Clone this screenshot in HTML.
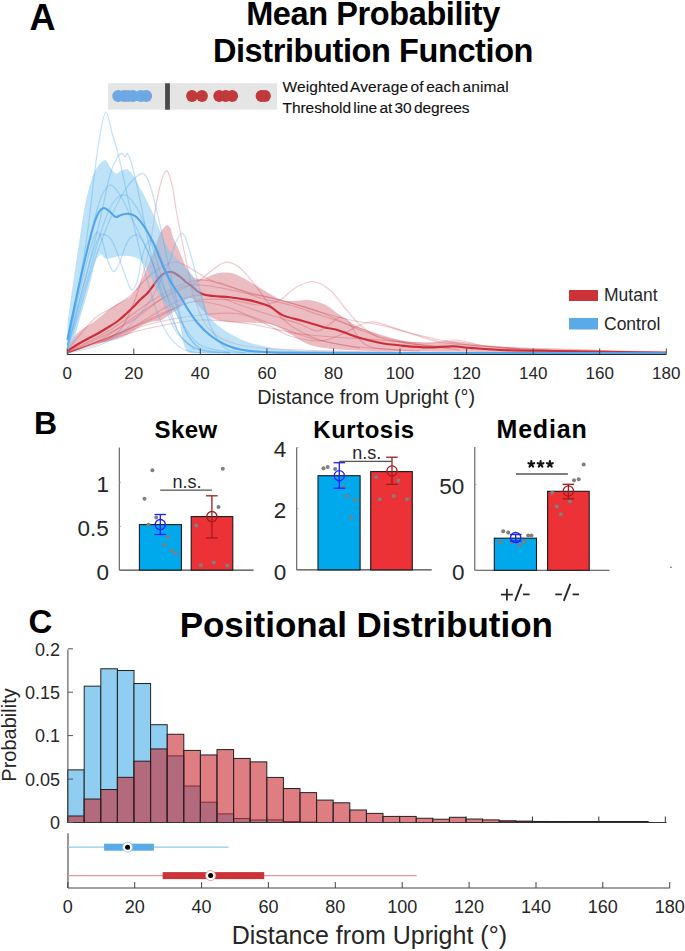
<!DOCTYPE html>
<html><head><meta charset="utf-8"><style>
html,body{margin:0;padding:0;background:#fff;}
svg{display:block;font-family:"Liberation Sans",sans-serif;}
.t{fill:#262626;}
</style></head><body>
<svg width="685" height="951" viewBox="0 0 685 951">
<rect width="685" height="951" fill="#fff"/>
<path d="M67.4,348.0 C69.1,345.5 73.3,337.2 77.5,333.0 C82.5,328.1 89.3,325.1 95.0,320.9 C101.0,316.4 106.5,311.2 112.6,306.9 C116.5,304.2 120.9,302.3 125.0,300.0 C126.7,299.0 128.6,298.3 130.0,297.0 C131.9,295.3 133.5,293.1 135.0,291.0 C137.3,287.8 139.5,284.5 141.3,281.0 C143.7,276.2 145.5,271.0 147.6,266.0 C149.7,260.9 151.9,255.8 153.9,250.6 C156.1,244.8 157.6,238.6 160.2,233.0 C161.3,230.6 163.2,228.3 165.0,226.5 C165.7,225.8 167.0,225.2 167.8,225.4 C168.8,225.7 170.0,226.9 170.5,228.0 C171.7,230.7 171.7,234.0 172.8,236.8 C174.6,241.5 177.1,246.0 179.1,250.6 C181.3,255.6 182.9,260.9 185.4,265.8 C187.2,269.3 189.2,273.0 191.8,275.8 C193.4,277.4 195.8,278.6 198.0,279.0 C200.2,279.4 202.8,279.0 205.0,278.4 C207.5,277.7 209.6,275.9 212.0,275.0 C215.0,274.0 218.2,272.9 221.3,272.7 C225.4,272.4 229.7,272.4 233.6,273.6 C238.5,275.1 243.0,278.2 247.6,280.6 C250.5,282.1 253.2,283.8 256.0,285.5 C259.0,287.3 262.1,289.2 265.1,291.0 C267.4,292.4 269.7,293.7 272.0,295.0 C275.0,296.7 277.8,298.9 281.0,300.0 C283.8,300.9 287.0,300.9 290.0,301.0 C293.3,301.1 296.7,300.7 300.0,300.5 C303.1,300.3 306.3,299.5 309.4,300.0 C314.6,300.8 319.9,302.2 324.7,304.4 C328.7,306.2 332.1,309.4 335.7,312.0 C339.4,314.6 342.9,317.4 346.6,319.8 C350.2,322.1 353.7,324.5 357.6,326.3 C364.7,329.6 372.0,332.6 379.5,335.0 C386.6,337.3 394.0,339.4 401.4,340.6 C410.2,342.0 419.1,342.7 428.0,342.8 C436.6,342.9 445.2,340.7 453.7,341.0 C463.1,341.4 472.4,344.0 481.8,344.9 C494.5,346.1 507.3,346.9 520.0,347.5 C533.3,348.1 546.7,348.1 560.0,348.5 C580.0,349.1 600.0,349.8 620.0,350.5 C635.3,351.0 658.3,351.8 666.0,352.0 L666.0,353.0 C621.7,352.8 488.7,352.2 400.0,351.5 C385.9,351.4 371.7,350.9 357.6,350.4 C350.3,350.2 343.0,350.0 335.7,349.3 C328.4,348.6 321.0,347.7 313.8,346.0 C310.0,345.1 306.3,343.5 302.8,341.7 C299.0,339.8 295.6,337.2 291.9,335.0 C288.0,332.6 284.1,330.1 280.0,328.0 C276.8,326.4 273.5,324.6 270.0,324.0 C262.7,322.8 255.1,323.0 247.6,322.6 C241.7,322.3 235.8,322.7 230.0,322.0 C223.9,321.2 217.4,320.5 212.0,318.0 C207.7,316.0 204.4,312.0 201.0,308.6 C198.4,306.0 196.5,302.7 194.0,300.0 C193.2,299.1 192.1,298.1 191.0,298.0 C189.6,297.8 187.6,298.1 186.5,299.0 C183.7,301.4 182.0,305.4 179.2,308.0 C177.1,310.0 174.3,311.3 171.9,313.0 C169.6,314.6 167.4,316.5 165.0,318.0 C163.4,319.0 161.8,319.9 160.0,320.4 C156.9,321.2 153.5,321.0 150.5,321.9 C147.0,323.0 143.5,324.5 140.3,326.3 C136.7,328.4 133.6,331.5 130.0,333.6 C126.3,335.7 122.4,337.4 118.4,338.7 C113.7,340.3 108.7,341.2 103.8,342.3 C99.0,343.3 94.0,343.8 89.2,345.0 C85.4,346.0 81.7,347.5 78.0,349.0 C74.4,350.5 69.2,353.2 67.4,354.0 Z" fill="#bc2637" fill-opacity="0.3"/>
<path d="M67.4,352.0 C72.8,350.5 89.7,347.3 100.0,343.0 C107.3,340.0 114.6,335.5 120.0,330.0 C124.6,325.2 127.2,318.3 130.0,312.0 C133.9,303.3 137.3,294.2 140.0,285.0 C143.9,271.8 147.3,258.5 150.0,245.0 C153.3,228.5 154.4,211.4 158.0,195.0 C159.8,186.6 163.5,172.7 166.4,170.6 C168.1,169.4 170.8,180.0 172.0,185.0 C174.3,194.5 175.0,204.4 176.8,214.0 C179.8,229.8 183.0,245.6 186.3,261.4 C189.0,274.3 190.7,287.6 195.0,300.0 C198.6,310.5 202.5,322.5 210.0,330.0 C217.5,337.5 229.3,342.6 240.0,345.0 C259.3,349.3 280.0,349.1 300.0,350.0 C333.3,351.5 383.3,351.7 400.0,352.0" fill="none" stroke="#cd2d37" stroke-opacity="0.25" stroke-width="1.2"/>
<path d="M67.4,353.0 C72.8,350.8 89.7,345.4 100.0,340.0 C110.6,334.4 120.0,326.7 130.0,320.0 C140.0,313.3 149.7,306.2 160.0,300.0 C166.4,296.2 173.3,293.3 180.0,290.0 C186.7,286.7 193.7,283.9 200.0,280.0 C205.4,276.6 209.7,271.5 215.0,268.0 C218.6,265.6 222.7,262.2 226.6,262.2 C231.0,262.2 236.3,265.0 240.0,268.0 C245.8,272.6 250.2,279.1 255.0,285.0 C260.2,291.5 264.5,298.7 270.0,305.0 C276.2,312.1 282.4,319.7 290.0,325.0 C299.0,331.3 309.5,336.5 320.0,340.0 C332.8,344.2 353.3,346.7 360.0,348.0" fill="none" stroke="#cd2d37" stroke-opacity="0.25" stroke-width="1.2"/>
<path d="M67.4,353.0 C76.2,349.7 102.7,340.2 120.0,333.0 C136.9,325.9 153.1,317.0 170.0,310.0 C179.7,306.0 189.7,301.7 200.0,300.0 C209.7,298.4 220.1,299.2 230.0,300.0 C240.1,300.8 250.1,305.0 260.0,305.0 C266.7,305.0 274.0,302.9 280.0,300.0 C285.6,297.3 289.5,291.1 295.0,288.0 C300.4,284.9 306.9,281.2 312.7,281.5 C318.6,281.8 325.1,286.0 330.0,290.0 C335.9,294.8 339.9,302.1 345.0,308.0 C349.9,313.7 354.3,320.1 360.0,325.0 C366.0,330.1 372.6,335.5 380.0,338.0 C392.6,342.2 406.6,343.0 420.0,345.0 C433.3,347.0 453.3,349.2 460.0,350.0" fill="none" stroke="#cd2d37" stroke-opacity="0.25" stroke-width="1.2"/>
<path d="M67.4,353.0 C77.8,348.8 109.7,337.5 130.0,328.0 C147.2,319.9 162.6,307.2 180.0,300.0 C189.2,296.2 200.2,294.2 210.0,295.0 C220.2,295.8 230.0,301.7 240.0,305.0 C250.0,308.3 260.0,311.8 270.0,315.0 C280.0,318.2 290.1,320.7 300.0,324.0 C306.1,326.0 312.2,331.0 318.0,331.0 C322.2,331.0 326.1,326.5 330.0,324.0 C332.5,322.4 334.4,319.8 337.0,318.5 C338.5,317.7 340.7,317.1 342.3,317.5 C344.3,318.0 346.6,319.4 348.0,321.0 C350.8,324.2 352.6,328.4 355.0,332.0 C357.3,335.4 358.9,339.5 362.0,342.0 C365.6,344.9 370.3,347.3 375.0,348.0 C389.7,350.3 412.5,350.5 420.0,351.0" fill="none" stroke="#cd2d37" stroke-opacity="0.25" stroke-width="1.2"/>
<path d="M67.4,352.0 C74.5,348.3 96.4,338.3 110.0,330.0 C123.9,321.6 136.3,310.8 150.0,302.0 C159.7,295.8 169.6,289.6 180.0,285.0 C186.2,282.3 193.3,280.3 200.0,280.0 C206.6,279.7 213.5,281.4 220.0,283.0 C226.8,284.7 233.4,287.5 240.0,290.0 C246.7,292.5 253.1,295.9 260.0,298.0 C269.8,300.9 280.1,302.2 290.0,305.0 C300.1,307.9 310.0,311.7 320.0,315.0 C330.0,318.3 340.0,321.7 350.0,325.0 C360.0,328.3 369.9,332.0 380.0,335.0 C389.9,338.0 399.8,341.3 410.0,343.0 C423.2,345.3 436.6,346.1 450.0,347.0 C466.6,348.1 483.3,348.4 500.0,349.0 C520.0,349.7 550.0,350.7 560.0,351.0" fill="none" stroke="#cd2d37" stroke-opacity="0.25" stroke-width="1.2"/>
<path d="M67.4,353.0 C76.2,349.7 102.6,340.0 120.0,333.0 C133.5,327.6 146.8,321.9 160.0,316.0 C170.1,311.5 179.5,303.9 190.0,302.0 C199.5,300.3 210.3,302.7 220.0,305.0 C230.3,307.4 240.0,312.3 250.0,316.0 C260.0,319.7 270.0,323.3 280.0,327.0 C290.0,330.7 299.8,335.2 310.0,338.0 C323.1,341.6 336.5,344.2 350.0,346.0 C366.5,348.2 391.7,349.3 400.0,350.0" fill="none" stroke="#cd2d37" stroke-opacity="0.25" stroke-width="1.2"/>
<path d="M67.4,353.0 C77.8,347.8 110.0,333.7 130.0,322.0 C145.8,312.7 159.0,298.4 175.0,290.0 C182.4,286.1 191.6,284.7 200.0,285.0 C213.3,285.4 226.7,289.5 240.0,292.0 C253.4,294.5 266.8,296.7 280.0,300.0 C293.5,303.4 306.6,308.2 320.0,312.0 C330.0,314.8 339.9,317.8 350.0,320.0 C359.9,322.1 370.1,322.9 380.0,325.0 C390.1,327.2 400.0,330.5 410.0,333.0 C420.0,335.5 429.9,338.0 440.0,340.0 C449.9,342.0 459.9,343.9 470.0,345.0 C483.3,346.5 496.7,347.2 510.0,348.0 C523.3,348.8 543.3,349.7 550.0,350.0" fill="none" stroke="#cd2d37" stroke-opacity="0.25" stroke-width="1.2"/>
<path d="M67.4,353.0 C74.5,350.5 95.8,343.0 110.0,338.0 C123.3,333.3 136.4,327.5 150.0,324.0 C166.4,319.8 183.2,316.9 200.0,315.0 C213.2,313.5 227.1,312.0 240.0,314.0 C250.4,315.6 260.1,321.7 270.0,326.0 C276.8,329.0 282.9,333.9 290.0,336.0 C299.6,338.9 310.1,341.2 320.0,341.0 C326.8,340.9 333.5,337.5 340.0,335.0 C350.2,331.1 359.7,322.9 370.0,322.0 C379.7,321.2 390.0,327.2 400.0,330.0 C413.4,333.8 426.4,339.3 440.0,342.0 C453.1,344.6 466.7,344.8 480.0,346.0 C493.3,347.2 506.6,348.3 520.0,349.0 C540.0,350.0 560.0,350.5 580.0,351.0 C600.0,351.5 630.0,351.8 640.0,352.0" fill="none" stroke="#cd2d37" stroke-opacity="0.25" stroke-width="1.2"/>
<path d="M67.4,353.0 C72.8,351.2 89.0,345.3 100.0,342.0 C116.6,337.0 133.1,331.7 150.0,328.0 C166.5,324.4 183.3,320.7 200.0,320.0 C216.6,319.3 233.5,321.7 250.0,324.0 C266.8,326.4 283.2,331.9 300.0,334.0 C326.5,337.3 353.3,338.2 380.0,340.0 C396.7,341.2 413.4,343.0 430.0,343.0 C438.4,343.0 446.7,339.7 455.0,340.0 C463.4,340.3 471.6,343.8 480.0,345.0 C493.3,346.8 513.3,348.3 520.0,349.0" fill="none" stroke="#cd2d37" stroke-opacity="0.25" stroke-width="1.2"/>
<path d="M67.4,350.0 C72.0,344.7 85.0,327.7 95.0,318.0 C99.2,314.0 105.1,312.1 110.0,309.0 C116.7,304.8 123.9,301.0 130.0,296.0 C135.6,291.4 139.7,285.0 145.0,280.0 C149.7,275.6 154.6,271.3 160.0,268.0 C164.6,265.3 170.0,262.0 175.0,262.0 C180.0,262.0 185.2,265.5 190.0,268.0 C196.9,271.5 202.9,276.9 210.0,280.0 C219.6,284.2 229.9,287.1 240.0,290.0 C253.2,293.8 266.8,296.4 280.0,300.0 C293.4,303.7 307.0,307.1 320.0,312.0 C333.7,317.1 346.3,324.9 360.0,330.0 C373.0,334.9 386.4,339.3 400.0,342.0 C416.4,345.3 441.7,347.0 450.0,348.0" fill="none" stroke="#cd2d37" stroke-opacity="0.25" stroke-width="1.2"/>
<path d="M67.4,351.0 C69.5,349.7 75.7,345.5 80.0,343.0 C84.9,340.2 90.0,337.8 95.0,335.0 C99.0,332.8 103.1,330.4 107.0,328.0 C110.7,325.8 114.4,323.6 117.8,321.0 C121.0,318.6 124.0,315.7 127.0,313.0 C129.8,310.4 132.6,307.7 135.3,305.0 C137.3,303.0 139.0,300.9 141.0,299.0 C143.1,296.9 145.6,295.2 147.6,293.0 C149.6,290.8 151.2,288.4 153.0,286.0 C154.7,283.7 156.3,281.2 158.1,279.0 C159.6,277.2 161.1,275.3 163.0,274.0 C164.6,272.9 166.7,272.4 168.6,272.0 C169.7,271.8 170.9,271.7 172.0,272.0 C173.4,272.4 174.7,273.2 176.0,274.0 C177.7,275.1 179.4,276.2 181.0,277.5 C182.7,278.9 184.3,280.6 186.0,282.0 C187.8,283.4 189.7,284.6 191.5,286.0 C193.4,287.6 195.0,289.6 197.0,291.0 C199.1,292.5 201.4,293.8 203.8,294.6 C206.6,295.5 209.6,295.7 212.6,296.0 C218.4,296.6 224.2,296.6 230.0,297.2 C235.9,297.9 241.8,298.8 247.6,299.9 C252.3,300.8 257.0,302.0 261.6,303.4 C264.5,304.3 267.4,305.1 270.0,306.6 C274.5,309.1 278.3,313.3 283.0,315.4 C289.2,318.1 296.2,319.0 302.8,320.9 C310.1,323.0 317.3,325.5 324.7,327.4 C328.3,328.3 332.1,328.6 335.7,329.5 C339.2,330.4 342.6,331.8 346.0,333.0 C349.9,334.4 353.6,336.1 357.6,337.3 C364.8,339.4 372.1,341.4 379.5,342.8 C386.7,344.2 394.1,344.9 401.4,345.6 C410.2,346.4 419.1,347.3 428.0,347.4 C436.6,347.5 445.1,346.2 453.7,346.3 C459.1,346.4 464.6,347.5 470.0,347.9 C481.7,348.8 493.3,349.8 505.0,350.2 C523.3,350.8 541.7,350.7 560.0,351.0 C580.0,351.3 600.0,351.7 620.0,352.0 C635.3,352.2 658.3,352.4 666.0,352.5" fill="none" stroke="#cd2d37" stroke-width="2.1"/>
<path d="M67.4,325.0 C68.2,319.2 70.4,301.7 72.0,290.0 C73.9,276.7 76.0,263.3 78.0,250.0 C80.3,235.0 82.1,219.9 85.0,205.0 C86.8,195.9 89.1,186.8 92.0,178.0 C93.4,173.8 95.6,169.7 98.0,166.0 C99.3,164.0 101.1,162.3 103.0,161.0 C103.8,160.4 105.3,159.8 106.0,160.4 C107.7,161.8 108.5,165.0 110.0,167.0 C111.8,169.4 113.8,172.9 116.0,173.6 C117.4,174.1 119.2,171.3 121.0,170.6 C122.8,169.9 124.8,169.0 126.6,169.2 C127.8,169.3 129.1,170.5 130.0,171.5 C131.9,173.5 133.6,175.7 135.0,178.0 C136.9,181.2 138.2,184.7 140.0,188.0 C140.9,189.7 142.1,191.3 143.0,193.0 C145.1,197.0 146.9,201.1 148.9,205.2 C150.6,208.6 152.5,212.0 154.0,215.5 C156.5,221.3 158.6,227.2 161.0,233.0 C162.8,237.2 164.2,241.6 166.5,245.5 C168.6,249.1 171.3,252.3 174.0,255.5 C176.2,258.1 178.6,260.5 181.0,263.0 C183.6,265.7 186.6,268.1 189.0,271.0 C191.3,273.8 193.3,276.8 195.0,280.0 C197.0,283.8 198.4,288.0 200.0,292.0 C201.7,296.3 203.3,300.7 205.0,305.0 C206.6,309.0 207.5,313.6 210.0,317.0 C213.2,321.4 217.6,325.2 222.0,328.5 C226.9,332.2 232.5,335.2 238.0,338.0 C242.5,340.2 247.2,342.1 252.0,343.5 C257.2,345.1 262.6,346.0 268.0,347.0 C273.6,348.0 279.3,349.0 285.0,349.5 C293.3,350.3 301.7,350.8 310.0,351.0 C340.0,351.7 370.0,351.9 400.0,352.0 C488.7,352.4 621.7,352.4 666.0,352.5 L666.0,353.5 C586.7,353.4 347.4,355.8 190.0,353.0 C186.7,352.9 185.1,348.1 184.0,345.0 C181.8,338.7 181.8,331.5 180.0,325.0 C178.8,320.5 177.3,315.9 175.0,312.0 C173.3,309.2 170.3,307.4 168.0,305.0 C165.3,302.1 162.1,299.4 160.0,296.0 C156.8,291.0 154.7,285.3 152.0,280.0 C150.0,276.0 148.3,271.8 146.0,268.0 C144.3,265.2 142.4,262.1 140.0,260.0 C138.1,258.4 135.5,257.2 133.0,256.7 C128.8,255.9 124.3,255.7 120.0,256.0 C115.3,256.3 110.3,259.1 106.0,258.7 C103.8,258.5 102.1,253.4 100.6,254.0 C98.4,254.9 96.2,259.7 95.0,263.0 C93.0,268.4 92.4,274.4 91.0,280.0 C89.4,286.0 87.7,292.0 86.0,298.0 C84.1,304.7 81.9,311.3 80.0,318.0 C77.9,325.3 76.6,332.9 74.0,340.0 C72.4,344.3 68.5,350.0 67.4,352.0 Z" fill="#7dc5ef" fill-opacity="0.5"/>
<path d="M67.4,345.0 C70.3,329.2 80.0,281.8 85.0,250.0 C89.2,223.5 91.5,196.6 95.0,170.0 C96.5,158.3 97.8,146.6 100.0,135.0 C101.5,127.2 103.8,112.0 105.9,112.0 C108.0,112.0 110.4,127.3 112.6,135.0 C114.3,140.9 116.3,146.7 117.8,152.6 C120.5,163.3 122.6,174.2 125.0,185.0 C128.3,200.0 131.4,215.1 135.0,230.0 C139.8,250.1 144.1,270.3 150.0,290.0 C154.1,303.6 158.0,318.0 165.0,330.0 C169.6,338.0 176.8,346.6 185.0,350.0 C195.2,354.2 214.2,352.5 220.0,353.0" fill="none" stroke="#50a5eb" stroke-opacity="0.35" stroke-width="1.2"/>
<path d="M67.4,348.0 C70.3,336.7 79.2,302.7 85.0,280.0 C90.1,260.0 95.2,240.1 100.0,220.0 C103.6,205.1 105.9,189.8 110.0,175.0 C111.6,169.1 114.0,163.2 117.0,158.0 C118.1,156.0 120.6,153.6 122.2,153.4 C123.3,153.3 124.1,157.0 125.0,157.0 C125.8,157.0 126.8,152.7 127.4,153.4 C129.1,155.4 130.9,161.0 132.0,165.0 C135.1,176.5 137.5,188.3 140.0,200.0 C143.5,216.6 146.3,233.4 150.0,250.0 C153.0,263.4 155.9,276.9 160.0,290.0 C164.2,303.6 168.0,318.0 175.0,330.0 C179.6,338.0 191.7,346.7 195.0,350.0" fill="none" stroke="#50a5eb" stroke-opacity="0.35" stroke-width="1.2"/>
<path d="M67.4,350.0 C69.5,343.3 76.0,323.4 80.0,310.0 C83.5,298.4 86.4,286.6 90.0,275.0 C93.1,264.9 96.4,254.9 100.0,245.0 C103.7,234.9 107.5,224.8 112.0,215.0 C115.9,206.5 120.1,197.9 125.0,190.0 C127.7,185.6 131.2,181.4 135.0,178.0 C137.3,176.0 141.1,172.6 143.2,173.6 C146.1,175.0 148.6,180.8 150.0,185.0 C154.2,198.0 156.9,211.6 160.0,225.0 C164.2,243.3 167.7,261.7 172.0,280.0 C176.0,296.7 178.7,314.3 185.0,330.0 C188.0,337.6 197.5,346.7 200.0,350.0" fill="none" stroke="#50a5eb" stroke-opacity="0.35" stroke-width="1.2"/>
<path d="M67.4,353.0 C72.8,351.7 89.7,349.1 100.0,345.0 C108.9,341.4 117.6,336.1 125.0,330.0 C132.6,323.8 139.0,315.8 145.0,308.0 C149.3,302.5 152.7,296.2 156.0,290.0 C159.8,282.9 163.2,275.6 166.5,268.3 C168.4,264.2 170.1,260.0 171.6,255.7 C173.4,250.7 174.3,245.2 176.6,240.5 C178.0,237.7 180.9,232.3 182.5,233.0 C184.7,234.0 186.6,241.3 188.0,245.6 C190.5,253.0 192.3,260.7 194.3,268.3 C196.3,275.5 198.0,282.8 200.0,290.0 C203.2,301.7 205.2,314.0 210.0,325.0 C213.6,333.3 218.3,342.7 225.0,348.0 C230.0,352.0 241.7,352.2 245.0,353.0" fill="none" stroke="#50a5eb" stroke-opacity="0.35" stroke-width="1.2"/>
<path d="M67.4,345.0 C69.5,335.8 75.6,308.3 80.0,290.0 C83.2,276.6 86.1,263.2 90.0,250.0 C91.8,243.8 94.3,234.2 97.0,232.0 C98.3,230.9 100.9,237.1 102.0,240.0 C104.2,245.8 104.9,252.2 107.0,258.0 C108.7,262.7 111.0,270.3 113.5,271.5 C115.0,272.3 117.7,266.8 119.0,264.0 C121.2,259.6 122.1,254.6 124.0,250.0 C125.7,245.9 127.1,241.1 130.0,238.0 C131.8,236.1 136.1,233.8 138.0,235.0 C141.4,237.1 143.8,243.4 146.0,248.0 C149.5,255.1 152.3,262.6 155.0,270.0 C158.6,279.9 161.2,290.2 165.0,300.0 C169.6,311.8 173.0,324.9 180.0,335.0 C184.6,341.6 192.4,347.3 200.0,350.0 C209.1,353.3 225.0,352.5 230.0,353.0" fill="none" stroke="#50a5eb" stroke-opacity="0.35" stroke-width="1.2"/>
<path d="M67.4,345.0 C70.3,330.8 78.7,288.2 85.0,260.0 C89.5,239.9 93.5,219.4 100.0,200.0 C101.9,194.4 106.3,185.9 110.0,185.0 C112.9,184.3 117.4,191.1 120.0,195.0 C124.1,201.1 126.7,208.3 130.0,215.0 C135.0,225.0 140.3,234.9 145.0,245.0 C150.3,256.5 154.6,268.5 160.0,280.0 C166.3,293.5 172.2,307.4 180.0,320.0 C185.6,329.0 191.5,339.6 200.0,345.0 C208.2,350.2 225.0,350.8 230.0,352.0" fill="none" stroke="#50a5eb" stroke-opacity="0.35" stroke-width="1.2"/>
<path d="M67.4,348.0 C70.3,336.7 78.5,302.5 85.0,280.0 C89.4,264.8 93.2,246.5 100.0,235.0 C101.5,232.5 107.9,235.6 110.0,238.0 C113.9,242.3 115.7,249.2 118.0,255.0 C120.7,261.5 122.4,268.5 125.0,275.0 C127.0,280.1 129.5,288.5 132.0,290.0 C133.5,290.8 136.1,285.0 137.0,282.0 C139.1,275.6 139.4,268.6 141.0,262.0 C142.4,256.3 143.5,250.1 146.0,245.0 C147.1,242.8 150.5,239.0 152.0,240.0 C155.2,242.3 157.9,249.8 160.0,255.0 C163.9,264.8 166.7,275.0 170.0,285.0 C175.0,300.0 178.3,315.9 185.0,330.0 C188.3,336.9 193.5,344.7 200.0,348.0 C208.5,352.3 225.0,352.2 230.0,353.0" fill="none" stroke="#50a5eb" stroke-opacity="0.35" stroke-width="1.2"/>
<path d="M67.4,348.0 C71.2,335.0 82.4,296.0 90.0,270.0 C94.9,253.3 99.2,236.3 105.0,220.0 C107.5,213.0 110.6,205.6 115.0,200.0 C117.2,197.2 122.1,194.3 125.0,195.0 C128.7,195.9 132.4,201.1 135.0,205.0 C139.1,211.1 142.2,218.1 145.0,225.0 C148.9,234.8 151.9,244.9 155.0,255.0 C159.6,269.9 163.3,285.1 168.0,300.0 C171.7,311.8 173.6,325.1 180.0,335.0 C184.3,341.7 192.2,348.2 200.0,350.0 C218.8,354.2 250.0,352.5 260.0,353.0" fill="none" stroke="#50a5eb" stroke-opacity="0.35" stroke-width="1.2"/>
<path d="M67.4,340.0 C68.2,336.3 70.4,325.3 72.0,318.0 C74.0,308.7 76.0,299.3 78.0,290.0 C80.0,281.0 81.9,272.0 84.0,263.0 C86.1,254.0 88.4,245.0 90.7,236.0 C92.0,231.0 93.3,225.9 95.0,221.0 C96.1,217.9 97.2,214.7 99.0,212.0 C100.1,210.3 102.1,208.2 103.8,208.0 C105.4,207.8 107.4,209.8 109.0,211.0 C111.4,212.8 113.2,216.2 115.7,217.0 C117.2,217.5 119.2,215.5 121.0,215.0 C122.8,214.4 124.7,213.8 126.6,213.7 C128.4,213.6 130.3,213.9 132.0,214.5 C133.8,215.2 135.6,216.2 137.0,217.5 C139.6,220.1 142.0,223.2 144.0,226.3 C147.3,231.3 150.3,236.6 152.9,242.0 C156.8,250.1 159.7,258.8 163.4,267.0 C166.0,272.8 168.9,278.5 172.0,284.0 C174.4,288.2 177.4,291.9 180.0,296.0 C182.8,300.4 185.1,305.1 188.0,309.5 C191.1,314.3 194.3,319.2 198.0,323.5 C201.9,328.0 206.3,332.4 211.0,336.0 C215.6,339.5 220.7,342.6 226.0,345.0 C230.4,347.1 235.2,348.5 240.0,349.5 C245.2,350.6 250.6,351.1 256.0,351.5 C264.0,352.1 272.0,352.5 280.0,352.6 C320.0,353.0 360.0,352.9 400.0,353.0 C488.7,353.1 621.7,353.2 666.0,353.2" fill="none" stroke="#50a5eb" stroke-width="2.1"/>
<line x1="67.2" y1="354.5" x2="666.3" y2="354.5" stroke="#262626" stroke-width="1.1"/>
<line x1="67.2" y1="354.5" x2="67.2" y2="348.5" stroke="#444" stroke-width="1"/>
<text x="67.2" y="379" class="t" font-size="17" text-anchor="middle">0</text>
<line x1="133.8" y1="354.5" x2="133.8" y2="348.5" stroke="#444" stroke-width="1"/>
<text x="133.8" y="379" class="t" font-size="17" text-anchor="middle">20</text>
<line x1="200.3" y1="354.5" x2="200.3" y2="348.5" stroke="#444" stroke-width="1"/>
<text x="200.3" y="379" class="t" font-size="17" text-anchor="middle">40</text>
<line x1="266.9" y1="354.5" x2="266.9" y2="348.5" stroke="#444" stroke-width="1"/>
<text x="266.9" y="379" class="t" font-size="17" text-anchor="middle">60</text>
<line x1="333.5" y1="354.5" x2="333.5" y2="348.5" stroke="#444" stroke-width="1"/>
<text x="333.5" y="379" class="t" font-size="17" text-anchor="middle">80</text>
<line x1="400.0" y1="354.5" x2="400.0" y2="348.5" stroke="#444" stroke-width="1"/>
<text x="400.0" y="379" class="t" font-size="17" text-anchor="middle">100</text>
<line x1="466.6" y1="354.5" x2="466.6" y2="348.5" stroke="#444" stroke-width="1"/>
<text x="466.6" y="379" class="t" font-size="17" text-anchor="middle">120</text>
<line x1="533.2" y1="354.5" x2="533.2" y2="348.5" stroke="#444" stroke-width="1"/>
<text x="533.2" y="379" class="t" font-size="17" text-anchor="middle">140</text>
<line x1="599.7" y1="354.5" x2="599.7" y2="348.5" stroke="#444" stroke-width="1"/>
<text x="599.7" y="379" class="t" font-size="17" text-anchor="middle">160</text>
<line x1="666.3" y1="354.5" x2="666.3" y2="348.5" stroke="#444" stroke-width="1"/>
<text x="666.3" y="379" class="t" font-size="17" text-anchor="middle">180</text>
<text x="366.2" y="403.8" class="t" font-size="19.8" text-anchor="middle">Distance from Upright (°)</text>
<rect x="569" y="290" width="29" height="11" fill="#cc3338"/>
<rect x="569" y="318" width="29" height="11.5" fill="#5aaae8"/>
<text x="604" y="301" class="t" font-size="17.5">Mutant</text>
<text x="604" y="329.5" class="t" font-size="17.5">Control</text>
<rect x="108" y="83.2" width="169" height="26.5" fill="#e5e5e5"/>
<rect x="165.1" y="83.3" width="4.8" height="26.4" fill="#4a4a4a"/>
<circle cx="118.2" cy="96" r="6" fill="#6ea8e4"/>
<circle cx="124" cy="96" r="6" fill="#6ea8e4"/>
<circle cx="128" cy="96" r="6" fill="#6ea8e4"/>
<circle cx="133" cy="96" r="6" fill="#6ea8e4"/>
<circle cx="141" cy="96" r="6" fill="#6ea8e4"/>
<circle cx="146.2" cy="96" r="6" fill="#6ea8e4"/>
<circle cx="192" cy="96" r="5.9" fill="#c0393b"/>
<circle cx="202" cy="96" r="5.9" fill="#c0393b"/>
<circle cx="219.2" cy="96" r="5.9" fill="#c0393b"/>
<circle cx="225.7" cy="96" r="5.9" fill="#c0393b"/>
<circle cx="232.2" cy="96" r="5.9" fill="#c0393b"/>
<circle cx="261.5" cy="96" r="5.9" fill="#c0393b"/>
<circle cx="265" cy="96" r="5.9" fill="#c0393b"/>
<text x="282.5" y="92.3" font-size="15.5" letter-spacing="0.1" word-spacing="-2" fill="#111" stroke="#111" stroke-width="0.12">Weighted Average of each animal</text>
<text x="282.5" y="113.3" font-size="15.5" letter-spacing="-0.05" word-spacing="-2" fill="#111" stroke="#111" stroke-width="0.12">Threshold line at 30 degrees</text>
<text x="373" y="24.6" font-size="32.5" letter-spacing="-0.4" font-weight="700" text-anchor="middle" fill="#000">Mean Probability</text>
<text x="373" y="61.5" font-size="32.5" letter-spacing="-0.4" font-weight="700" text-anchor="middle" fill="#000">Distribution Function</text>
<text x="29.5" y="30" font-size="36" font-weight="700" fill="#000">A</text>
<text x="34" y="434" font-size="32" font-weight="700" fill="#000">B</text>
<text x="28.5" y="632.5" font-size="33" font-weight="700" fill="#000">C</text>
<line x1="119.3" y1="447.4" x2="119.3" y2="570.1" stroke="#5a5a5a" stroke-width="1.1"/>
<line x1="119.3" y1="570.1" x2="253.6" y2="570.1" stroke="#444" stroke-width="1.1"/>
<line x1="119.3" y1="570.1" x2="121.0" y2="570.1" stroke="#999" stroke-width="0.8"/>
<text x="108.89999999999999" y="579.8000000000001" class="t" font-size="22.5" text-anchor="end">0</text>
<line x1="119.3" y1="526.4" x2="121.0" y2="526.4" stroke="#999" stroke-width="0.8"/>
<text x="108.89999999999999" y="536.1" class="t" font-size="22.5" text-anchor="end">0.5</text>
<line x1="119.3" y1="482.7" x2="121.0" y2="482.7" stroke="#999" stroke-width="0.8"/>
<text x="108.89999999999999" y="492.4" class="t" font-size="22.5" text-anchor="end">1</text>
<text x="186" y="437.7" font-size="24" letter-spacing="0.4" font-weight="700" text-anchor="middle" fill="#000">Skew</text>
<rect x="139.4" y="524.6" width="42.0" height="45.5" fill="#00a8ec" stroke="#1a1a1a" stroke-width="1.1"/>
<rect x="191.2" y="516.6" width="41.60000000000002" height="53.5" fill="#ec3237" stroke="#1a1a1a" stroke-width="1.1"/>
<circle cx="152.4" cy="470.2" r="2.0" fill="#7f7f7f"/>
<circle cx="144.5" cy="498.8" r="2.0" fill="#7f7f7f"/>
<circle cx="156.2" cy="517.4" r="2.0" fill="#7f7f7f"/>
<circle cx="148.4" cy="524.7" r="2.0" fill="#7f7f7f"/>
<circle cx="167.8" cy="537" r="2.0" fill="#7f7f7f"/>
<circle cx="164.2" cy="544.7" r="2.0" fill="#7f7f7f"/>
<circle cx="171.5" cy="550.6" r="2.0" fill="#7f7f7f"/>
<circle cx="175.6" cy="553.5" r="2.0" fill="#7f7f7f"/>
<circle cx="222.8" cy="468.8" r="2.0" fill="#7f7f7f"/>
<circle cx="218.5" cy="507.1" r="2.0" fill="#7f7f7f"/>
<circle cx="196.3" cy="525.5" r="2.0" fill="#7f7f7f"/>
<circle cx="201" cy="565.2" r="2.0" fill="#7f7f7f"/>
<circle cx="213.8" cy="562.6" r="2.0" fill="#7f7f7f"/>
<circle cx="227.3" cy="565.6" r="2.0" fill="#7f7f7f"/>
<line x1="160.3" y1="514.5" x2="160.3" y2="534.5" stroke="#1d1dff" stroke-width="1.3"/>
<line x1="154.5" y1="514.5" x2="166.10000000000002" y2="514.5" stroke="#1d1dff" stroke-width="1.3"/>
<line x1="154.5" y1="534.5" x2="166.10000000000002" y2="534.5" stroke="#1d1dff" stroke-width="1.3"/>
<circle cx="160.3" cy="524.6" r="5.1" fill="none" stroke="#1d1dff" stroke-width="1.3"/>
<line x1="211.9" y1="495.8" x2="211.9" y2="537.9" stroke="#a01c1c" stroke-width="1.3"/>
<line x1="206.1" y1="495.8" x2="217.70000000000002" y2="495.8" stroke="#a01c1c" stroke-width="1.3"/>
<line x1="206.1" y1="537.9" x2="217.70000000000002" y2="537.9" stroke="#a01c1c" stroke-width="1.3"/>
<circle cx="211.9" cy="516.6" r="5.1" fill="none" stroke="#a01c1c" stroke-width="1.3"/>
<line x1="160.2" y1="490.2" x2="211.9" y2="490.2" stroke="#555" stroke-width="1.3"/>
<text x="187.05" y="488.4" class="t" font-size="18" text-anchor="middle">n.s.</text>
<line x1="296.7" y1="447.4" x2="296.7" y2="569.9" stroke="#5a5a5a" stroke-width="1.1"/>
<line x1="296.7" y1="569.9" x2="431.7" y2="569.9" stroke="#444" stroke-width="1.1"/>
<line x1="296.7" y1="569.9" x2="298.4" y2="569.9" stroke="#999" stroke-width="0.8"/>
<text x="286.3" y="579.6" class="t" font-size="22.5" text-anchor="end">0</text>
<line x1="296.7" y1="508.6" x2="298.4" y2="508.6" stroke="#999" stroke-width="0.8"/>
<text x="286.3" y="518.3000000000001" class="t" font-size="22.5" text-anchor="end">2</text>
<line x1="296.7" y1="447.5" x2="298.4" y2="447.5" stroke="#999" stroke-width="0.8"/>
<text x="286.3" y="457.2" class="t" font-size="22.5" text-anchor="end">4</text>
<text x="364" y="437.7" font-size="24" letter-spacing="0.5" font-weight="700" text-anchor="middle" fill="#000">Kurtosis</text>
<rect x="318" y="475.7" width="42.10000000000002" height="94.19999999999999" fill="#00a8ec" stroke="#1a1a1a" stroke-width="1.1"/>
<rect x="370.7" y="471.6" width="41.60000000000002" height="98.29999999999995" fill="#ec3237" stroke="#1a1a1a" stroke-width="1.1"/>
<circle cx="323.5" cy="468.3" r="2.0" fill="#7f7f7f"/>
<circle cx="327.7" cy="466.9" r="2.0" fill="#7f7f7f"/>
<circle cx="335.2" cy="469" r="2.0" fill="#7f7f7f"/>
<circle cx="343.5" cy="487.1" r="2.0" fill="#7f7f7f"/>
<circle cx="347.1" cy="496" r="2.0" fill="#7f7f7f"/>
<circle cx="354.9" cy="500.2" r="2.0" fill="#7f7f7f"/>
<circle cx="351.2" cy="517.6" r="2.0" fill="#7f7f7f"/>
<circle cx="376.2" cy="477.1" r="2.0" fill="#7f7f7f"/>
<circle cx="398.4" cy="480.7" r="2.0" fill="#7f7f7f"/>
<circle cx="379.8" cy="499.3" r="2.0" fill="#7f7f7f"/>
<circle cx="393.7" cy="496" r="2.0" fill="#7f7f7f"/>
<circle cx="407" cy="499.3" r="2.0" fill="#7f7f7f"/>
<line x1="339.3" y1="462.7" x2="339.3" y2="488.2" stroke="#1d1dff" stroke-width="1.3"/>
<line x1="333.5" y1="462.7" x2="345.1" y2="462.7" stroke="#1d1dff" stroke-width="1.3"/>
<line x1="333.5" y1="488.2" x2="345.1" y2="488.2" stroke="#1d1dff" stroke-width="1.3"/>
<circle cx="339.3" cy="475.7" r="5.1" fill="none" stroke="#1d1dff" stroke-width="1.3"/>
<line x1="392" y1="457.2" x2="392" y2="484.3" stroke="#a01c1c" stroke-width="1.3"/>
<line x1="386.2" y1="457.2" x2="397.8" y2="457.2" stroke="#a01c1c" stroke-width="1.3"/>
<line x1="386.2" y1="484.3" x2="397.8" y2="484.3" stroke="#a01c1c" stroke-width="1.3"/>
<circle cx="392" cy="471" r="5.1" fill="none" stroke="#a01c1c" stroke-width="1.3"/>
<line x1="339.3" y1="461.3" x2="392" y2="461.3" stroke="#555" stroke-width="1.3"/>
<text x="366.65" y="458.5" class="t" font-size="18" text-anchor="middle">n.s.</text>
<line x1="474.8" y1="447.0" x2="474.8" y2="570.3" stroke="#5a5a5a" stroke-width="1.1"/>
<line x1="474.8" y1="570.3" x2="609.5" y2="570.3" stroke="#444" stroke-width="1.1"/>
<line x1="474.8" y1="570.3" x2="476.5" y2="570.3" stroke="#999" stroke-width="0.8"/>
<text x="464.40000000000003" y="580.0" class="t" font-size="22.5" text-anchor="end">0</text>
<line x1="474.8" y1="484.5" x2="476.5" y2="484.5" stroke="#999" stroke-width="0.8"/>
<text x="464.40000000000003" y="494.2" class="t" font-size="22.5" text-anchor="end">50</text>
<text x="542" y="437.7" font-size="25" letter-spacing="0.8" font-weight="700" text-anchor="middle" fill="#000">Median</text>
<rect x="494.3" y="538.2" width="42.19999999999999" height="32.09999999999991" fill="#00a8ec" stroke="#1a1a1a" stroke-width="1.1"/>
<rect x="547.6" y="491.3" width="41.60000000000002" height="78.99999999999994" fill="#ec3237" stroke="#1a1a1a" stroke-width="1.1"/>
<circle cx="503.2" cy="531.2" r="2.0" fill="#7f7f7f"/>
<circle cx="508.2" cy="532.6" r="2.0" fill="#7f7f7f"/>
<circle cx="500.4" cy="542.3" r="2.0" fill="#7f7f7f"/>
<circle cx="511.5" cy="541.8" r="2.0" fill="#7f7f7f"/>
<circle cx="519.3" cy="545.1" r="2.0" fill="#7f7f7f"/>
<circle cx="524" cy="541.8" r="2.0" fill="#7f7f7f"/>
<circle cx="528.2" cy="535.4" r="2.0" fill="#7f7f7f"/>
<circle cx="531.5" cy="535.4" r="2.0" fill="#7f7f7f"/>
<circle cx="583.7" cy="464.6" r="2.0" fill="#7f7f7f"/>
<circle cx="574" cy="480.2" r="2.0" fill="#7f7f7f"/>
<circle cx="578.7" cy="479.3" r="2.0" fill="#7f7f7f"/>
<circle cx="552.3" cy="492.7" r="2.0" fill="#7f7f7f"/>
<circle cx="569.8" cy="501.5" r="2.0" fill="#7f7f7f"/>
<circle cx="556.8" cy="506.5" r="2.0" fill="#7f7f7f"/>
<circle cx="560.9" cy="514.3" r="2.0" fill="#7f7f7f"/>
<line x1="515.7" y1="534.5" x2="515.7" y2="541" stroke="#1d1dff" stroke-width="1.3"/>
<line x1="509.90000000000003" y1="534.5" x2="521.5" y2="534.5" stroke="#1d1dff" stroke-width="1.3"/>
<line x1="509.90000000000003" y1="541" x2="521.5" y2="541" stroke="#1d1dff" stroke-width="1.3"/>
<circle cx="515.7" cy="537.6" r="5.1" fill="none" stroke="#1d1dff" stroke-width="1.3"/>
<line x1="568.4" y1="484.3" x2="568.4" y2="498.8" stroke="#a01c1c" stroke-width="1.3"/>
<line x1="562.6" y1="484.3" x2="574.1999999999999" y2="484.3" stroke="#a01c1c" stroke-width="1.3"/>
<line x1="562.6" y1="498.8" x2="574.1999999999999" y2="498.8" stroke="#a01c1c" stroke-width="1.3"/>
<circle cx="568.4" cy="491" r="5.1" fill="none" stroke="#a01c1c" stroke-width="1.3"/>
<line x1="515.9" y1="474" x2="567.9" y2="474" stroke="#555" stroke-width="1.3"/>
<path d="M531.30,464.10 L531.30,461.05 M531.30,464.10 L534.20,463.16 M531.30,464.10 L533.09,466.57 M531.30,464.10 L529.51,466.57 M531.30,464.10 L528.40,463.16 " stroke="#111" stroke-width="2.1" stroke-linecap="round" fill="none"/>
<path d="M540.60,464.10 L540.60,461.05 M540.60,464.10 L543.50,463.16 M540.60,464.10 L542.39,466.57 M540.60,464.10 L538.81,466.57 M540.60,464.10 L537.70,463.16 " stroke="#111" stroke-width="2.1" stroke-linecap="round" fill="none"/>
<path d="M549.90,464.10 L549.90,461.05 M549.90,464.10 L552.80,463.16 M549.90,464.10 L551.69,466.57 M549.90,464.10 L548.11,466.57 M549.90,464.10 L547.00,463.16 " stroke="#111" stroke-width="2.1" stroke-linecap="round" fill="none"/>
<line x1="500.9" y1="594.6" x2="512.8" y2="594.6" stroke="#262626" stroke-width="1.75"/><line x1="506.9" y1="588.7" x2="506.9" y2="600.5" stroke="#262626" stroke-width="1.75"/>
<line x1="515.1" y1="600.8" x2="521.6" y2="583.9" stroke="#262626" stroke-width="1.85"/><line x1="523" y1="594.4" x2="529.6" y2="594.4" stroke="#262626" stroke-width="1.75"/>
<line x1="555.3" y1="594.4" x2="561.9" y2="594.4" stroke="#262626" stroke-width="1.75"/><line x1="563.8" y1="600.8" x2="570.3" y2="583.9" stroke="#262626" stroke-width="1.85"/><line x1="572.6" y1="594.4" x2="579" y2="594.4" stroke="#262626" stroke-width="1.75"/>
<circle cx="671" cy="567.3" r="0.8" fill="#555"/>
<text x="366.3" y="636.5" font-size="35" font-weight="700" text-anchor="middle" fill="#000">Positional Distribution</text>
<line x1="499.2" y1="821.9" x2="648.6" y2="821.9" stroke="#222" stroke-width="2"/>
<rect x="67.60" y="769.87" width="16.60" height="52.63" fill="#8fcdf1" stroke="#222" stroke-width="1"/>
<rect x="84.20" y="686.15" width="16.60" height="136.35" fill="#8fcdf1" stroke="#222" stroke-width="1"/>
<rect x="100.80" y="668.78" width="16.60" height="153.72" fill="#8fcdf1" stroke="#222" stroke-width="1"/>
<rect x="117.40" y="670.51" width="16.60" height="151.99" fill="#8fcdf1" stroke="#222" stroke-width="1"/>
<rect x="134.00" y="683.54" width="16.60" height="138.96" fill="#8fcdf1" stroke="#222" stroke-width="1"/>
<rect x="150.60" y="724.71" width="16.60" height="97.79" fill="#8fcdf1" stroke="#222" stroke-width="1"/>
<rect x="167.20" y="755.89" width="16.60" height="66.61" fill="#8fcdf1" stroke="#222" stroke-width="1"/>
<rect x="183.80" y="786.02" width="16.60" height="36.48" fill="#8fcdf1" stroke="#222" stroke-width="1"/>
<rect x="200.40" y="802.18" width="16.60" height="20.32" fill="#8fcdf1" stroke="#222" stroke-width="1"/>
<rect x="217.00" y="813.90" width="16.60" height="8.60" fill="#8fcdf1" stroke="#222" stroke-width="1"/>
<rect x="233.60" y="818.50" width="16.60" height="4.00" fill="#8fcdf1" stroke="#222" stroke-width="1"/>
<rect x="250.20" y="819.98" width="16.60" height="2.52" fill="#8fcdf1" stroke="#222" stroke-width="1"/>
<rect x="266.80" y="819.89" width="16.60" height="2.61" fill="#8fcdf1" stroke="#222" stroke-width="1"/>
<rect x="283.40" y="821.63" width="16.60" height="0.87" fill="#8fcdf1" stroke="#222" stroke-width="1"/>
<rect x="300.00" y="822.07" width="16.60" height="0.43" fill="#8fcdf1" stroke="#222" stroke-width="1"/>
<rect x="67.60" y="815.99" width="16.60" height="6.51" fill="#ca2d35" fill-opacity="0.62" stroke="#222" stroke-width="1"/>
<rect x="84.20" y="799.05" width="16.60" height="23.45" fill="#ca2d35" fill-opacity="0.62" stroke="#222" stroke-width="1"/>
<rect x="100.80" y="789.50" width="16.60" height="33.00" fill="#ca2d35" fill-opacity="0.62" stroke="#222" stroke-width="1"/>
<rect x="117.40" y="777.34" width="16.60" height="45.16" fill="#ca2d35" fill-opacity="0.62" stroke="#222" stroke-width="1"/>
<rect x="134.00" y="761.18" width="16.60" height="61.32" fill="#ca2d35" fill-opacity="0.62" stroke="#222" stroke-width="1"/>
<rect x="150.60" y="748.94" width="16.60" height="73.56" fill="#ca2d35" fill-opacity="0.62" stroke="#222" stroke-width="1"/>
<rect x="167.20" y="734.26" width="16.60" height="88.24" fill="#ca2d35" fill-opacity="0.62" stroke="#222" stroke-width="1"/>
<rect x="183.80" y="750.41" width="16.60" height="72.09" fill="#ca2d35" fill-opacity="0.62" stroke="#222" stroke-width="1"/>
<rect x="200.40" y="754.93" width="16.60" height="67.57" fill="#ca2d35" fill-opacity="0.62" stroke="#222" stroke-width="1"/>
<rect x="217.00" y="749.63" width="16.60" height="72.87" fill="#ca2d35" fill-opacity="0.62" stroke="#222" stroke-width="1"/>
<rect x="233.60" y="758.40" width="16.60" height="64.10" fill="#ca2d35" fill-opacity="0.62" stroke="#222" stroke-width="1"/>
<rect x="250.20" y="761.88" width="16.60" height="60.62" fill="#ca2d35" fill-opacity="0.62" stroke="#222" stroke-width="1"/>
<rect x="266.80" y="777.42" width="16.60" height="45.08" fill="#ca2d35" fill-opacity="0.62" stroke="#222" stroke-width="1"/>
<rect x="283.40" y="788.54" width="16.60" height="33.96" fill="#ca2d35" fill-opacity="0.62" stroke="#222" stroke-width="1"/>
<rect x="300.00" y="792.62" width="16.60" height="29.88" fill="#ca2d35" fill-opacity="0.62" stroke="#222" stroke-width="1"/>
<rect x="316.60" y="800.09" width="16.60" height="22.41" fill="#ca2d35" fill-opacity="0.62" stroke="#222" stroke-width="1"/>
<rect x="333.20" y="802.79" width="16.60" height="19.71" fill="#ca2d35" fill-opacity="0.62" stroke="#222" stroke-width="1"/>
<rect x="349.80" y="809.99" width="16.60" height="12.51" fill="#ca2d35" fill-opacity="0.62" stroke="#222" stroke-width="1"/>
<rect x="366.40" y="813.38" width="16.60" height="9.12" fill="#ca2d35" fill-opacity="0.62" stroke="#222" stroke-width="1"/>
<rect x="383.00" y="816.42" width="16.60" height="6.08" fill="#ca2d35" fill-opacity="0.62" stroke="#222" stroke-width="1"/>
<rect x="399.60" y="816.42" width="16.60" height="6.08" fill="#ca2d35" fill-opacity="0.62" stroke="#222" stroke-width="1"/>
<rect x="416.20" y="818.24" width="16.60" height="4.26" fill="#ca2d35" fill-opacity="0.62" stroke="#222" stroke-width="1"/>
<rect x="432.80" y="819.20" width="16.60" height="3.30" fill="#ca2d35" fill-opacity="0.62" stroke="#222" stroke-width="1"/>
<rect x="449.40" y="817.29" width="16.60" height="5.21" fill="#ca2d35" fill-opacity="0.62" stroke="#222" stroke-width="1"/>
<rect x="466.00" y="819.03" width="16.60" height="3.47" fill="#ca2d35" fill-opacity="0.62" stroke="#222" stroke-width="1"/>
<rect x="482.60" y="819.89" width="16.60" height="2.61" fill="#ca2d35" fill-opacity="0.62" stroke="#222" stroke-width="1"/>
<rect x="499.20" y="820.76" width="16.60" height="1.74" fill="#ca2d35" fill-opacity="0.62" stroke="#222" stroke-width="1"/>
<rect x="515.80" y="821.11" width="16.60" height="1.39" fill="#ca2d35" fill-opacity="0.62" stroke="#222" stroke-width="1"/>
<rect x="532.40" y="821.46" width="16.60" height="1.04" fill="#ca2d35" fill-opacity="0.62" stroke="#222" stroke-width="1"/>
<rect x="549.00" y="821.81" width="16.60" height="0.69" fill="#ca2d35" fill-opacity="0.62" stroke="#222" stroke-width="1"/>
<rect x="565.60" y="822.50" width="16.60" height="0.00" fill="#ca2d35" fill-opacity="0.62" stroke="#222" stroke-width="1"/>
<rect x="582.20" y="822.50" width="16.60" height="0.00" fill="#ca2d35" fill-opacity="0.62" stroke="#222" stroke-width="1"/>
<rect x="598.80" y="822.50" width="16.60" height="0.00" fill="#ca2d35" fill-opacity="0.62" stroke="#222" stroke-width="1"/>
<rect x="615.40" y="822.50" width="16.60" height="0.00" fill="#ca2d35" fill-opacity="0.62" stroke="#222" stroke-width="1"/>
<rect x="632.00" y="822.50" width="16.60" height="0.00" fill="#ca2d35" fill-opacity="0.62" stroke="#222" stroke-width="1"/>
<line x1="67.9" y1="649.5" x2="67.9" y2="822.5" stroke="#555" stroke-width="1.1"/>
<line x1="67.3" y1="822.5" x2="666.5" y2="822.5" stroke="#333" stroke-width="1"/>
<line x1="67.9" y1="822.5" x2="73" y2="822.5" stroke="#555" stroke-width="1"/>
<text x="60" y="829.3" class="t" font-size="18" text-anchor="end">0</text>
<line x1="67.9" y1="779.1" x2="73" y2="779.1" stroke="#555" stroke-width="1"/>
<text x="60" y="785.9" class="t" font-size="18" text-anchor="end">0.05</text>
<line x1="67.9" y1="735.6" x2="73" y2="735.6" stroke="#555" stroke-width="1"/>
<text x="60" y="742.4" class="t" font-size="18" text-anchor="end">0.1</text>
<line x1="67.9" y1="692.2" x2="73" y2="692.2" stroke="#555" stroke-width="1"/>
<text x="60" y="699.0" class="t" font-size="18" text-anchor="end">0.15</text>
<line x1="67.9" y1="648.8" x2="73" y2="648.8" stroke="#555" stroke-width="1"/>
<text x="60" y="655.6" class="t" font-size="18" text-anchor="end">0.2</text>
<line x1="67.6" y1="822.5" x2="67.6" y2="816.5" stroke="#333" stroke-width="1"/>
<line x1="134.0" y1="822.5" x2="134.0" y2="816.5" stroke="#333" stroke-width="1"/>
<line x1="200.4" y1="822.5" x2="200.4" y2="816.5" stroke="#333" stroke-width="1"/>
<line x1="266.8" y1="822.5" x2="266.8" y2="816.5" stroke="#333" stroke-width="1"/>
<line x1="333.2" y1="822.5" x2="333.2" y2="816.5" stroke="#333" stroke-width="1"/>
<line x1="399.6" y1="822.5" x2="399.6" y2="816.5" stroke="#333" stroke-width="1"/>
<line x1="466.0" y1="822.5" x2="466.0" y2="816.5" stroke="#333" stroke-width="1"/>
<line x1="532.4" y1="822.5" x2="532.4" y2="816.5" stroke="#333" stroke-width="1"/>
<line x1="598.8" y1="822.5" x2="598.8" y2="816.5" stroke="#333" stroke-width="1"/>
<line x1="665.3" y1="822.5" x2="665.3" y2="816.5" stroke="#333" stroke-width="1"/>
<text transform="translate(15.8,735) rotate(-90)" class="t" font-size="20" text-anchor="middle">Probability</text>
<line x1="68" y1="833.2" x2="68" y2="888" stroke="#444" stroke-width="1.1"/>
<line x1="68" y1="888" x2="669.8" y2="888" stroke="#444" stroke-width="1.1"/>
<line x1="67.8" y1="888" x2="67.8" y2="882" stroke="#444" stroke-width="1"/>
<text x="67.8" y="913.3" class="t" font-size="18" text-anchor="middle">0</text>
<line x1="134.7" y1="888" x2="134.7" y2="882" stroke="#444" stroke-width="1"/>
<text x="134.7" y="913.3" class="t" font-size="18" text-anchor="middle">20</text>
<line x1="201.6" y1="888" x2="201.6" y2="882" stroke="#444" stroke-width="1"/>
<text x="201.6" y="913.3" class="t" font-size="18" text-anchor="middle">40</text>
<line x1="268.4" y1="888" x2="268.4" y2="882" stroke="#444" stroke-width="1"/>
<text x="268.4" y="913.3" class="t" font-size="18" text-anchor="middle">60</text>
<line x1="335.3" y1="888" x2="335.3" y2="882" stroke="#444" stroke-width="1"/>
<text x="335.3" y="913.3" class="t" font-size="18" text-anchor="middle">80</text>
<line x1="402.2" y1="888" x2="402.2" y2="882" stroke="#444" stroke-width="1"/>
<text x="402.2" y="913.3" class="t" font-size="18" text-anchor="middle">100</text>
<line x1="469.1" y1="888" x2="469.1" y2="882" stroke="#444" stroke-width="1"/>
<text x="469.1" y="913.3" class="t" font-size="18" text-anchor="middle">120</text>
<line x1="536.0" y1="888" x2="536.0" y2="882" stroke="#444" stroke-width="1"/>
<text x="536.0" y="913.3" class="t" font-size="18" text-anchor="middle">140</text>
<line x1="602.8" y1="888" x2="602.8" y2="882" stroke="#444" stroke-width="1"/>
<text x="602.8" y="913.3" class="t" font-size="18" text-anchor="middle">160</text>
<line x1="669.7" y1="888" x2="669.7" y2="882" stroke="#444" stroke-width="1"/>
<text x="669.7" y="913.3" class="t" font-size="18" text-anchor="middle">180</text>
<line x1="68" y1="847.2" x2="228.5" y2="847.2" stroke="#8cc8f0" stroke-width="1.2"/>
<rect x="104.1" y="843.7" width="49.8" height="7" fill="#5aaae8"/>
<circle cx="127.6" cy="847.2" r="5" fill="#fff" stroke="#8cc8f0" stroke-width="0.9"/><circle cx="127.6" cy="847.2" r="2.5" fill="#000"/>
<line x1="68" y1="875.6" x2="416.6" y2="875.6" stroke="#e39a9c" stroke-width="1.2"/>
<rect x="162.6" y="872.1" width="101.6" height="7" fill="#cc3338"/>
<circle cx="210.6" cy="875.6" r="5" fill="#fff" stroke="#e39a9c" stroke-width="0.9"/><circle cx="210.6" cy="875.6" r="2.5" fill="#000"/>
<text x="369.3" y="943.8" class="t" font-size="25" text-anchor="middle">Distance from Upright (°)</text>
</svg></body></html>
